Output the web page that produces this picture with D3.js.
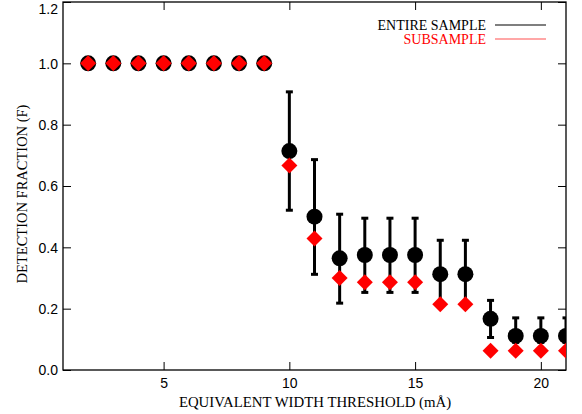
<!DOCTYPE html>
<html>
<head>
  <meta charset="UTF-8" />
  <title>Detection fraction</title>
  <script src="https://d3js.org/d3.v7.min.js"></script>
  <style>
    body { margin: 0; background: #fff; }
    text { font-family: "Liberation Serif", "DejaVu Serif", serif; }
    .tick-label { font-family: "Liberation Sans", "DejaVu Sans", sans-serif; font-size: 14px; }
  </style>
</head>
<body>
  <div id="chart"></div>
  <script>
    // thresholds (mÅ)
    const thresholds = [2, 3, 4, 5, 6, 7, 8, 9, 10, 11, 12, 13, 14, 15, 16, 17, 18, 19, 20, 21];
    // entire sample
    const entireF = [1, 1, 1, 1, 1, 1, 1, 1, 0.714, 0.5, 0.364, 0.375, 0.375, 0.375, 0.3125, 0.3125, 0.167, 0.111, 0.111, 0.111];
    const errLow  = [1, 1, 1, 1, 1, 1, 1, 1, 0.521, 0.312, 0.218, 0.253, 0.253, 0.253, 0.21, 0.21, 0.106, 0.09, 0.09, 0.09];
    const errHigh = [1, 1, 1, 1, 1, 1, 1, 1, 0.907, 0.686, 0.508, 0.495, 0.495, 0.495, 0.423, 0.423, 0.227, 0.17, 0.17, 0.17];
    // subsample
    const subF = [1, 1, 1, 1, 1, 1, 1, 1, 0.667, 0.429, 0.3, 0.286, 0.286, 0.286, 0.214, 0.214, 0.0625, 0.0625, 0.0625, 0.0625];
    const xTicks = [5, 10, 15, 20];
    const yTicks = [0, 0.2, 0.4, 0.6, 0.8, 1.0, 1.2];

    const width = 582, height = 414;
    const mLeft = 63, mRight = 566, mTop = 2, mBottom = 370;

    const svg = d3.select("#chart").append("svg")
      .attr("width", width)
      .attr("height", height);

    const x = d3.scaleLinear().domain([1, 21]).range([mLeft, mRight]);
    const y = d3.scaleLinear().domain([0, 1.2]).range([mBottom, mTop]);

    svg.append("clipPath").attr("id", "clip")
      .append("rect")
      .attr("x", mLeft).attr("y", mTop)
      .attr("width", mRight - mLeft).attr("height", mBottom - mTop);

    // axes: major ticks with labels on bottom/left, mirrored ticks on top/right
    const minorX = d3.range(1, 22, 1);
    const minorY = d3.range(0, 1.2001, 0.05);

    function drawAxis(axisFn, scale, ticks, minor, pos, labels) {
      const g = svg.append("g").attr("transform", pos);
      g.call(axisFn(scale).tickValues(minor).tickSize(4).tickFormat(""));
      g.call(axisFn(scale).tickValues(ticks).tickSize(8)
        .tickFormat(labels ? d3.format(labels) : ""));
      g.selectAll("line").attr("stroke", "#000");
      return g;
    }

    const gx = drawAxis(d3.axisTop, x, xTicks, minorX, `translate(0,${mBottom})`, "d");
    gx.selectAll("text").attr("class", "tick-label").attr("fill", "#000")
      .attr("y", 0).attr("dy", "1.25em");
    drawAxis(d3.axisBottom, x, xTicks, minorX, `translate(0,${mTop})`, null);

    const gy = drawAxis(d3.axisRight, y, yTicks, minorY, `translate(${mLeft},0)`, ".1f");
    gy.selectAll("text").attr("class", "tick-label").attr("fill", "#000")
      .attr("x", -5).attr("text-anchor", "end")
      .attr("dy", d => d >= 1.2 ? "0.85em" : "0.35em");
    drawAxis(d3.axisLeft, y, yTicks, minorY, `translate(${mRight},0)`, null);

    svg.selectAll("path.domain").remove();
    svg.append("rect")
      .attr("x", mLeft).attr("y", mTop)
      .attr("width", mRight - mLeft).attr("height", mBottom - mTop)
      .attr("fill", "none").attr("stroke", "#000").attr("stroke-width", 1.3);

    const data = thresholds.map((t, i) => ({
      t, f: entireF[i], lo: errLow[i], hi: errHigh[i], s: subF[i]
    }));

    const plot = svg.append("g").attr("clip-path", "url(#clip)");

    // error bars
    const eb = plot.selectAll("g.err").data(data.filter(d => d.hi > d.lo)).enter()
      .append("g").attr("class", "err");
    eb.append("line")
      .attr("x1", d => x(d.t)).attr("x2", d => x(d.t))
      .attr("y1", d => y(d.lo)).attr("y2", d => y(d.hi))
      .attr("stroke", "#000").attr("stroke-width", 3);
    ["lo", "hi"].forEach(k => {
      eb.append("line")
        .attr("x1", d => x(d.t) - 3.5).attr("x2", d => x(d.t) + 3.5)
        .attr("y1", d => y(d[k])).attr("y2", d => y(d[k]))
        .attr("stroke", "#000").attr("stroke-width", 3);
    });

    // entire sample circles
    plot.selectAll("circle.entire").data(data).enter()
      .append("circle").attr("class", "entire")
      .attr("cx", d => x(d.t)).attr("cy", d => y(d.f))
      .attr("r", 8).attr("fill", "#000");

    // subsample diamonds
    const dsz = 8;
    plot.selectAll("path.sub").data(data).enter()
      .append("path").attr("class", "sub")
      .attr("d", d => {
        const cx = x(d.t), cy = y(d.s);
        return `M${cx},${cy - dsz}L${cx + dsz},${cy}L${cx},${cy + dsz}L${cx - dsz},${cy}Z`;
      })
      .attr("fill", "#f00");

    // legend
    const legend = [
      { label: "ENTIRE SAMPLE", color: "#000", line: "#000", yy: 25 },
      { label: "SUBSAMPLE", color: "#f00", line: "#ff5050", yy: 39 }
    ];
    legend.forEach(l => {
      svg.append("text")
        .attr("x", 486).attr("y", l.yy + 4.5)
        .attr("text-anchor", "end")
        .attr("font-size", 14)
        .attr("fill", l.color)
        .text(l.label);
      svg.append("line")
        .attr("x1", 495).attr("x2", 546)
        .attr("y1", l.yy).attr("y2", l.yy)
        .attr("stroke", l.line).attr("stroke-width", 1.2);
    });

    // axis titles
    svg.append("text")
      .attr("x", 315).attr("y", 407)
      .attr("text-anchor", "middle")
      .attr("font-size", 14.8)
      .text("EQUIVALENT WIDTH THRESHOLD (mÅ)");

    svg.append("text")
      .attr("transform", `translate(27,194) rotate(-90)`)
      .attr("text-anchor", "middle")
      .attr("font-size", 14.5)
      .text("DETECTION FRACTION (F)");
  </script>
</body>
</html>
